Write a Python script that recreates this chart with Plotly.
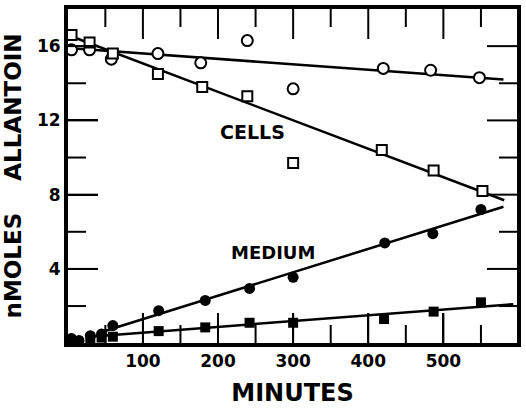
import plotly.graph_objects as go

# ---- data ----
cells_circle_x = [5, 29, 58, 120, 177, 239, 300, 420, 483, 548]
cells_circle_y = [15.8, 15.8, 15.3, 15.6, 15.1, 16.3, 13.7, 14.8, 14.7, 14.3]

cells_square_x = [5, 29, 60, 120, 179, 239, 300, 418, 487, 552]
cells_square_y = [16.6, 16.2, 15.6, 14.5, 13.8, 13.3, 9.7, 10.4, 9.3, 8.2]

medium_circle_x = [5, 15, 30, 45, 60, 121, 183, 242, 300, 422, 486, 550]
medium_circle_y = [0.25, 0.15, 0.4, 0.5, 0.95, 1.75, 2.3, 2.95, 3.55, 5.4, 5.9, 7.2]

medium_square_x = [30, 45, 60, 121, 183, 242, 300, 421, 487, 550]
medium_square_y = [0.2, 0.3, 0.35, 0.65, 0.85, 1.1, 1.1, 1.3, 1.7, 2.2]

# fitted lines (endpoints)
fit_cells_circle_x = [0, 580]
fit_cells_circle_y = [15.9, 14.2]
fit_cells_square_x = [0, 581]
fit_cells_square_y = [16.6, 7.7]
fit_medium_circle_x = [45, 580]
fit_medium_circle_y = [0.6, 7.35]
fit_medium_square_x = [30, 593]
fit_medium_square_y = [0.35, 2.1]

# axis ticks
x_major_ticks = [100, 200, 300, 400, 500]
x_minor_ticks = [50, 150, 250, 350, 450, 550]
y_major_ticks = [4, 8, 12, 16]
y_minor_ticks = [2, 6, 10, 14]

FONT = "DejaVu Sans"
BLACK = "rgb(1,1,1)"
MAJOR_LEN, MINOR_LEN = 30, 18

fig = go.Figure()

for fx, fy in [(fit_cells_circle_x, fit_cells_circle_y),
               (fit_cells_square_x, fit_cells_square_y),
               (fit_medium_circle_x, fit_medium_circle_y),
               (fit_medium_square_x, fit_medium_square_y)]:
    fig.add_trace(go.Scatter(x=fx, y=fy, mode="lines",
                             line=dict(color=BLACK, width=2.5),
                             showlegend=False))

fig.add_trace(go.Scatter(x=cells_circle_x, y=cells_circle_y, mode="markers",
                         marker=dict(symbol="circle", size=11, color="white",
                                     line=dict(color=BLACK, width=2)),
                         showlegend=False))
fig.add_trace(go.Scatter(x=cells_square_x, y=cells_square_y, mode="markers",
                         marker=dict(symbol="square", size=10, color="white",
                                     line=dict(color=BLACK, width=2)),
                         showlegend=False))
fig.add_trace(go.Scatter(x=medium_circle_x, y=medium_circle_y, mode="markers",
                         marker=dict(symbol="circle", size=11, color=BLACK),
                         showlegend=False))
fig.add_trace(go.Scatter(x=medium_square_x, y=medium_square_y, mode="markers",
                         marker=dict(symbol="square", size=10, color=BLACK),
                         showlegend=False))

fig.add_annotation(x=246, y=11.4, text="CELLS", showarrow=False,
                   font=dict(family=FONT, size=19, color=BLACK, weight="bold"))
fig.add_annotation(x=273, y=4.9, text="MEDIUM", showarrow=False,
                   font=dict(family=FONT, size=18, color=BLACK, weight="bold"))

# inward tick marks on all four sides, placed at the tick values through the axes
tick_line = dict(color=BLACK, width=2)
for ticks, length in [(x_major_ticks, MAJOR_LEN), (x_minor_ticks, MINOR_LEN)]:
    for v in ticks:
        fig.add_shape(type="line", xref="x", yref="paper", ysizemode="pixel",
                      yanchor=0, x0=v, x1=v, y0=0, y1=length, line=tick_line)
        fig.add_shape(type="line", xref="x", yref="paper", ysizemode="pixel",
                      yanchor=1, x0=v, x1=v, y0=0, y1=-length, line=tick_line)
for ticks, length in [(y_major_ticks, MAJOR_LEN), (y_minor_ticks, MINOR_LEN)]:
    for v in ticks:
        fig.add_shape(type="line", yref="y", xref="paper", xsizemode="pixel",
                      xanchor=0, y0=v, y1=v, x0=0, x1=length, line=tick_line)
        fig.add_shape(type="line", yref="y", xref="paper", xsizemode="pixel",
                      xanchor=1, y0=v, y1=v, x0=0, x1=-length, line=tick_line)

fig.update_xaxes(range=[0.3, 598], tickmode="array", tickvals=x_major_ticks,
                 ticktext=[str(v) for v in x_major_ticks],
                 ticks="inside", ticklen=MAJOR_LEN, tickwidth=2, tickcolor=BLACK,
                 showline=True, linewidth=4, linecolor="black", mirror=True,
                 showgrid=False, zeroline=False,
                 tickfont=dict(family=FONT, size=17, color=BLACK, weight="bold"),
                 title=dict(text="MINUTES",
                            font=dict(family=FONT, size=24, color=BLACK, weight="bold")))
fig.update_yaxes(range=[0.01, 18], tickmode="array", tickvals=y_major_ticks,
                 ticktext=[str(v) for v in y_major_ticks],
                 ticks="inside", ticklen=MAJOR_LEN, tickwidth=2, tickcolor=BLACK,
                 showline=True, linewidth=4, linecolor="black", mirror=True,
                 showgrid=False, zeroline=False,
                 tickfont=dict(family=FONT, size=17, color=BLACK, weight="bold"),
                 title=dict(text="nMOLES&nbsp;&nbsp;&nbsp;&nbsp;ALLANTOIN",
                            font=dict(family=FONT, size=23, color=BLACK, weight="bold")))

fig.update_layout(width=526, height=408,
                  margin=dict(l=68, r=5, t=9, b=58),
                  plot_bgcolor="white")

fig.write_html("out.html", config={"displayModeBar": False},
               post_script="document.body.style.margin='0';document.body.style.overflow='hidden';")
